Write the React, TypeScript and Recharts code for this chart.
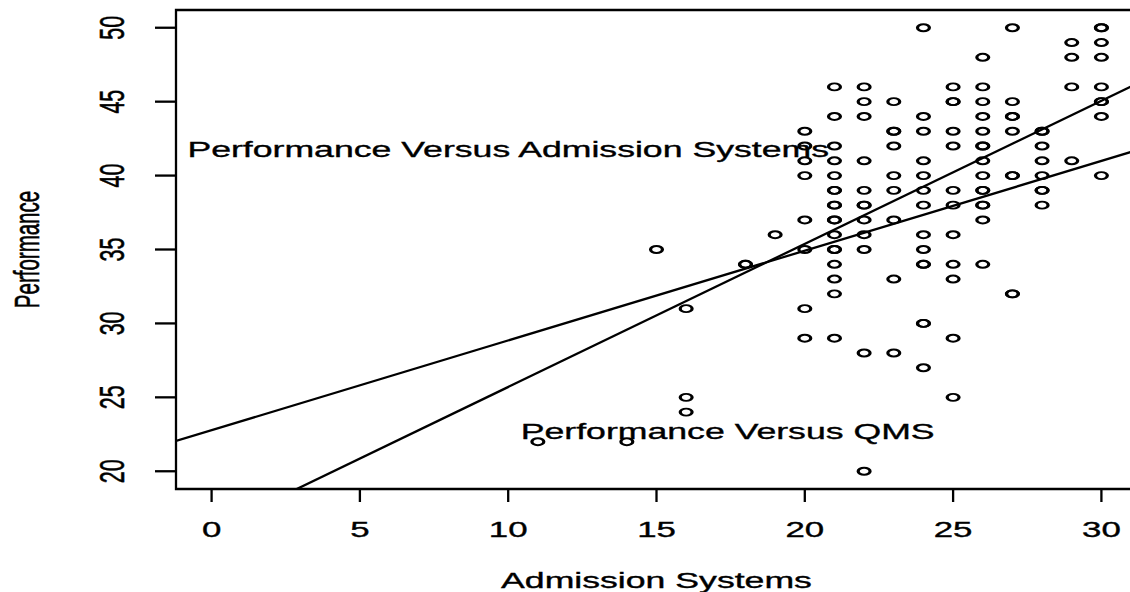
import React from 'react';
import { ScatterChart, Scatter, XAxis, YAxis, ReferenceLine, ReferenceArea, ReferenceDot } from 'recharts';

// one entry per school: admission systems score and performance score
const admissionSystems = [
  11, 14, 15, 16, 16, 16, 18, 18, 19,
  20, 20, 20, 20, 20, 20, 20, 20,
  21, 21, 21, 21, 21, 21, 21, 21, 21, 21, 21, 21, 21, 21, 21, 21, 21, 21,
  22, 22, 22, 22, 22, 22, 22, 22, 22, 22, 22, 22,
  23, 23, 23, 23, 23, 23, 23, 23, 23,
  24, 24, 24, 24, 24, 24, 24, 24, 24, 24, 24, 24, 24, 24,
  25, 25, 25, 25, 25, 25, 25, 25, 25, 25, 25, 25,
  26, 26, 26, 26, 26, 26, 26, 26, 26, 26, 26, 26, 26, 26, 26,
  27, 27, 27, 27, 27, 27, 27, 27, 27,
  28, 28, 28, 28, 28, 28, 28, 28,
  29, 29, 29, 29,
  30, 30, 30, 30, 30, 30, 30, 30, 30,
];
const performance = [
  22, 22, 35, 31, 25, 24, 34, 34, 36,
  43, 42, 41, 40, 37, 35, 31, 29,
  46, 44, 42, 41, 40, 39, 39, 38, 38, 37, 37, 36, 35, 35, 34, 33, 32, 29,
  46, 45, 44, 41, 39, 38, 38, 37, 36, 35, 28, 20,
  45, 43, 43, 42, 40, 39, 37, 33, 28,
  50, 44, 43, 41, 40, 39, 38, 36, 35, 34, 34, 30, 30, 27,
  46, 45, 45, 43, 42, 39, 38, 36, 34, 33, 29, 25,
  48, 46, 45, 44, 43, 42, 42, 41, 40, 39, 39, 38, 38, 37, 34,
  50, 45, 44, 44, 43, 40, 40, 32, 32,
  43, 43, 42, 41, 40, 39, 39, 38,
  49, 48, 46, 41,
  50, 50, 49, 48, 46, 45, 45, 44, 40,
];

const xTicks = [0, 5, 10, 15, 20, 25, 30];
const yTicks = [20, 25, 30, 35, 40, 45, 50];
const xDomain = [-1.2, 31.2];
const yDomain = [18.8, 51.2];

// fitted lines as [intercept, slope]
const fitAdmission = [16.02, 0.968];
const fitQms = [22.78, 0.607];

const noteLabels = ['Performance Versus Admission Systems', 'Performance Versus QMS'];
const noteX = [10, 17.4];
const noteY = [41.8, 22.7];

const FONT = '"Liberation Sans", Arial, Helvetica, sans-serif';
const STRETCH = 1.62;
const INK = 0.35; // thin outline to thicken glyphs a little

const points = admissionSystems.map((x, i) => ({ x, y: performance[i] }));
const notes = noteLabels.map((text, i) => ({ text, x: noteX[i], y: noteY[i] }));

const fitSegment = ([a, b]: number[]) =>
  xDomain.map((x) => ({ x, y: a + b * x }));

const textStyle = {
  fontFamily: FONT,
  fill: '#000',
  stroke: '#000',
  strokeWidth: INK,
};

const RingMarker = (props: any) => {
  const { cx, cy } = props;
  if (cx == null || cy == null) return null;
  return (
    <circle
      cx={0}
      cy={0}
      r={3.5}
      transform={`translate(${cx},${cy}) scale(1.7,1)`}
      fill="none"
      stroke="#000"
      strokeWidth={1.9}
    />
  );
};

const XTick = (props: any) => {
  const { x, y, payload } = props;
  return (
    <text
      transform={`translate(${x},${y + 34.5}) scale(${STRETCH},1)`}
      textAnchor="middle"
      fontSize={21.5}
      style={textStyle}
    >
      {payload.value}
    </text>
  );
};

const YTick = (props: any) => {
  const { x, y, payload } = props;
  return (
    <text
      transform={`translate(${x - 31.5},${y}) scale(${STRETCH},1) rotate(-90)`}
      textAnchor="middle"
      fontSize={21.5}
      style={textStyle}
    >
      {payload.value}
    </text>
  );
};

const XTitle = (props: any) => {
  const vb = props.viewBox;
  if (!vb) return null;
  return (
    <text
      transform={`translate(${vb.x + vb.width / 2},${vb.y + 99.3}) scale(${STRETCH},1)`}
      textAnchor="middle"
      fontSize={22}
      style={textStyle}
    >
      Admission Systems
    </text>
  );
};

const YTitle = (props: any) => {
  const vb = props.viewBox;
  if (!vb) return null;
  return (
    <text
      transform={`translate(${vb.x + 39.3},${vb.y + vb.height / 2}) scale(1.7,1) rotate(-90)`}
      textAnchor="middle"
      fontSize={20.5}
      style={textStyle}
    >
      Performance
    </text>
  );
};

const noteContent = (text: string) => (props: any) => {
  const vb = props.viewBox;
  if (!vb) return null;
  const cx = vb.x + (vb.width || 0) / 2;
  const cy = vb.y + (vb.height || 0) / 2;
  return (
    <text
      transform={`translate(${cx},${cy + 7.8}) scale(${STRETCH},1)`}
      textAnchor="middle"
      fontSize={22}
      style={textStyle}
    >
      {text}
    </text>
  );
};

export default function App() {
  return (
    <div
      style={{
        position: 'absolute',
        left: 0,
        top: 0,
        width: 1130,
        height: 592,
        overflow: 'hidden',
        background: '#fff',
      }}
    >
      <ScatterChart width={1146} height={592} margin={{ top: 10, right: 9, bottom: 0, left: 0 }}>
        <XAxis
          type="number"
          dataKey="x"
          domain={xDomain}
          ticks={xTicks}
          allowDataOverflow
          axisLine={false}
          tickSize={13}
          tickMargin={0}
          tickLine={{ stroke: '#000', strokeWidth: 2.3 }}
          tick={<XTick />}
          height={103}
          label={{ content: XTitle }}
        />
        <YAxis
          type="number"
          dataKey="y"
          domain={yDomain}
          ticks={yTicks}
          allowDataOverflow
          axisLine={false}
          tickSize={21}
          tickMargin={0}
          tickLine={{ stroke: '#000', strokeWidth: 2.3 }}
          tick={<YTick />}
          width={176}
          label={{ content: YTitle }}
        />
        <ReferenceArea
          x1={xDomain[0]}
          x2={xDomain[1]}
          y1={yDomain[0]}
          y2={yDomain[1]}
          fill="none"
          fillOpacity={0}
          stroke="#000"
          strokeWidth={2.3}
          ifOverflow="visible"
        />
        <Scatter data={points} shape={RingMarker} isAnimationActive={false} />
        <ReferenceLine segment={fitSegment(fitAdmission)} stroke="#000" strokeWidth={2.3} ifOverflow="hidden" />
        <ReferenceLine segment={fitSegment(fitQms)} stroke="#000" strokeWidth={2.3} ifOverflow="hidden" />
        {notes.map((n) => (
          <ReferenceDot
            key={n.text}
            x={n.x}
            y={n.y}
            r={1}
            fill="none"
            stroke="none"
            label={{ content: noteContent(n.text) }}
          />
        ))}
      </ScatterChart>
    </div>
  );
}
